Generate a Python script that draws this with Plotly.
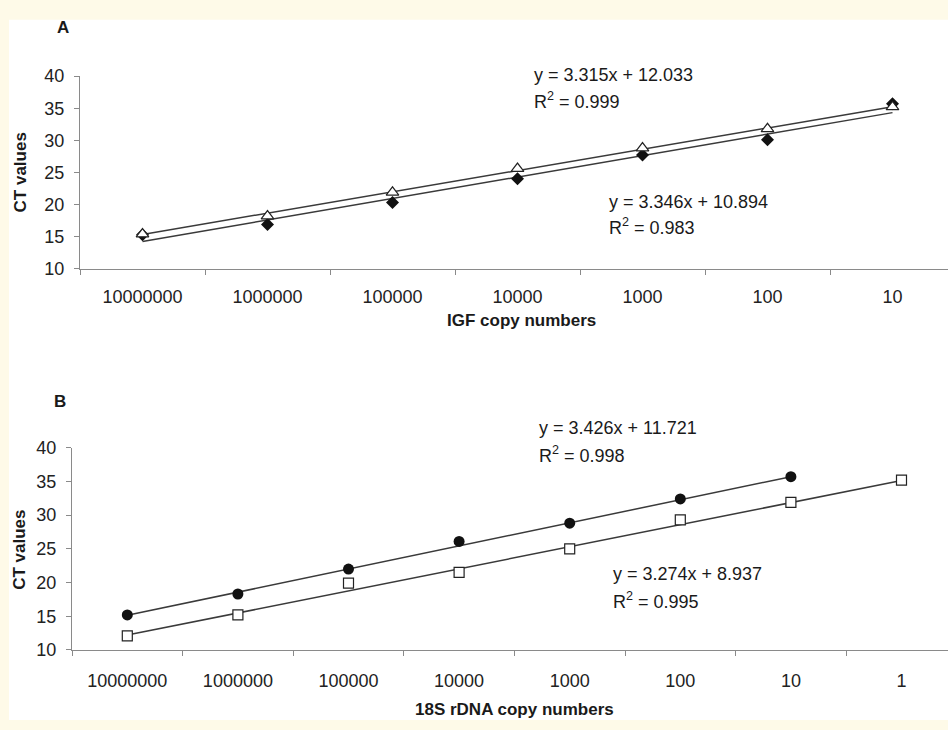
import plotly.graph_objects as go

W, H = 948, 730

# ---- Data ----
igf_labels = ["10000000", "1000000", "100000", "10000", "1000", "100", "10"]
igf_diamond = [15.3, 16.9, 20.3, 24.0, 27.7, 30.1, 35.7]
igf_triangle = [15.4, 18.2, 21.9, 25.6, 28.8, 31.8, 35.2]
igf_fit_tri = (3.315, 12.033)
igf_fit_dia = (3.346, 10.894)

rdna_labels = ["10000000", "1000000", "100000", "10000", "1000", "100", "10", "1"]
rdna_circle = [15.2, 18.3, 22.0, 26.1, 28.8, 32.4, 35.7]
rdna_square = [12.1, 15.2, 19.9, 21.5, 25.0, 29.3, 31.9, 35.2]
rdna_fit_circ = (3.426, 11.721)
rdna_fit_sq = (3.274, 8.937)

y_ticks = [10, 15, 20, 25, 30, 35, 40]


def px(x):
    return x / W


def py(y):
    return (H - y) / H


def fit_line(coef, n):
    s, b = coef
    return [s * (i + 1) + b for i in range(n)]


FONT = "Liberation Sans, Arial, sans-serif"
LINE_C = "#3a3a3a"

fig = go.Figure()

# Panel A
fig.add_trace(go.Scatter(x=igf_labels, y=fit_line(igf_fit_tri, len(igf_labels)), mode="lines",
                         line=dict(color=LINE_C, width=1.5), xaxis="x", yaxis="y", showlegend=False))
fig.add_trace(go.Scatter(x=igf_labels, y=fit_line(igf_fit_dia, len(igf_labels)), mode="lines",
                         line=dict(color=LINE_C, width=1.5), xaxis="x", yaxis="y", showlegend=False))
fig.add_trace(go.Scatter(x=igf_labels, y=igf_diamond, mode="markers",
                         marker=dict(symbol="diamond", size=10, color="#111"),
                         xaxis="x", yaxis="y", showlegend=False))
fig.add_trace(go.Scatter(x=igf_labels, y=igf_triangle, mode="markers",
                         marker=dict(symbol="triangle-up", size=11, color="white",
                                     line=dict(color="#222", width=1.2)),
                         xaxis="x", yaxis="y", showlegend=False))

# Panel B
fig.add_trace(go.Scatter(x=rdna_labels[:len(rdna_circle)], y=fit_line(rdna_fit_circ, len(rdna_circle)),
                         mode="lines", line=dict(color=LINE_C, width=1.5),
                         xaxis="x2", yaxis="y2", showlegend=False))
fig.add_trace(go.Scatter(x=rdna_labels, y=fit_line(rdna_fit_sq, len(rdna_labels)),
                         mode="lines", line=dict(color=LINE_C, width=1.5),
                         xaxis="x2", yaxis="y2", showlegend=False))
fig.add_trace(go.Scatter(x=rdna_labels[:len(rdna_circle)], y=rdna_circle, mode="markers",
                         marker=dict(symbol="circle", size=11, color="#111"),
                         xaxis="x2", yaxis="y2", showlegend=False))
fig.add_trace(go.Scatter(x=rdna_labels, y=rdna_square, mode="markers",
                         marker=dict(symbol="square", size=10, color="white",
                                     line=dict(color="#222", width=1.2)),
                         xaxis="x2", yaxis="y2", showlegend=False))

axis_common = dict(showline=True, linecolor="#8a8a8a", linewidth=1, showgrid=False, zeroline=False,
                   ticks="outside", ticklen=5, tickcolor="#8a8a8a",
                   tickfont=dict(family=FONT, size=18, color="#222"))

fig.update_layout(
    width=W, height=H,
    margin=dict(l=0, r=0, t=0, b=0),
    paper_bgcolor="#fefae8",
    plot_bgcolor="white",
    font=dict(family=FONT, color="#222"),
    xaxis=dict(domain=[px(80), 1], type="category", categoryorder="array", categoryarray=igf_labels,
               range=[-0.5, (W - 80) / 125 - 0.5], tickson="boundaries", anchor="y",
               ticklabelstandoff=12, **axis_common),
    yaxis=dict(domain=[py(266), py(68)], range=[10, 40], tickvals=y_ticks, anchor="x",
               ticklabelstandoff=6, **axis_common),
    xaxis2=dict(domain=[px(72), 1], type="category", categoryorder="array", categoryarray=rdna_labels,
                range=[-0.5, (W - 72) / 110.6 - 0.5], tickson="boundaries", anchor="y2",
                ticklabelstandoff=14, **axis_common),
    yaxis2=dict(domain=[py(658), py(450)], range=[10, 40], tickvals=y_ticks, anchor="x2",
                ticklabelstandoff=6, **axis_common),
    shapes=[dict(type="rect", xref="paper", yref="paper", x0=px(9), x1=1, y0=0, y1=py(10),
                 fillcolor="white", line=dict(width=0), layer="below")],
)

ann = []


def add_text(x, y, text, size=18, bold=False, angle=0, xanchor="left"):
    t = f"<b>{text}</b>" if bold else text
    ann.append(dict(x=px(x), y=py(y), xref="paper", yref="paper", text=t, showarrow=False,
                    xanchor=xanchor, yanchor="middle", textangle=angle,
                    font=dict(family=FONT, size=size, color="#1a1a1a")))


add_text(63, 18, "A", size=17, bold=True, xanchor="center")
add_text(60, 403, "B", size=17, bold=True, xanchor="center")
add_text(20, 167, "CT values", size=17, bold=True, angle=-90, xanchor="center")
add_text(20, 555, "CT values", size=17, bold=True, angle=-90, xanchor="center")
add_text(521, 319, "IGF copy numbers", size=17, bold=True, xanchor="center")
add_text(514, 719, "18S rDNA copy numbers", size=17, bold=True, xanchor="center")

add_text(532, 67, "y = 3.315x + 12.033")
add_text(532, 93, "R<sup>2</sup> = 0.999")
add_text(607, 197, "y = 3.346x + 10.894")
add_text(607, 223, "R<sup>2</sup> = 0.983")
add_text(537, 430, "y = 3.426x + 11.721")
add_text(537, 457, "R<sup>2</sup> = 0.998")
add_text(611, 580, "y = 3.274x + 8.937")
add_text(611, 607, "R<sup>2</sup> = 0.995")

fig.update_layout(annotations=ann)

fig.write_html(
    "out.html",
    config={"displayModeBar": False},
    post_script="document.body.style.margin='0';document.body.style.overflow='hidden';",
)
